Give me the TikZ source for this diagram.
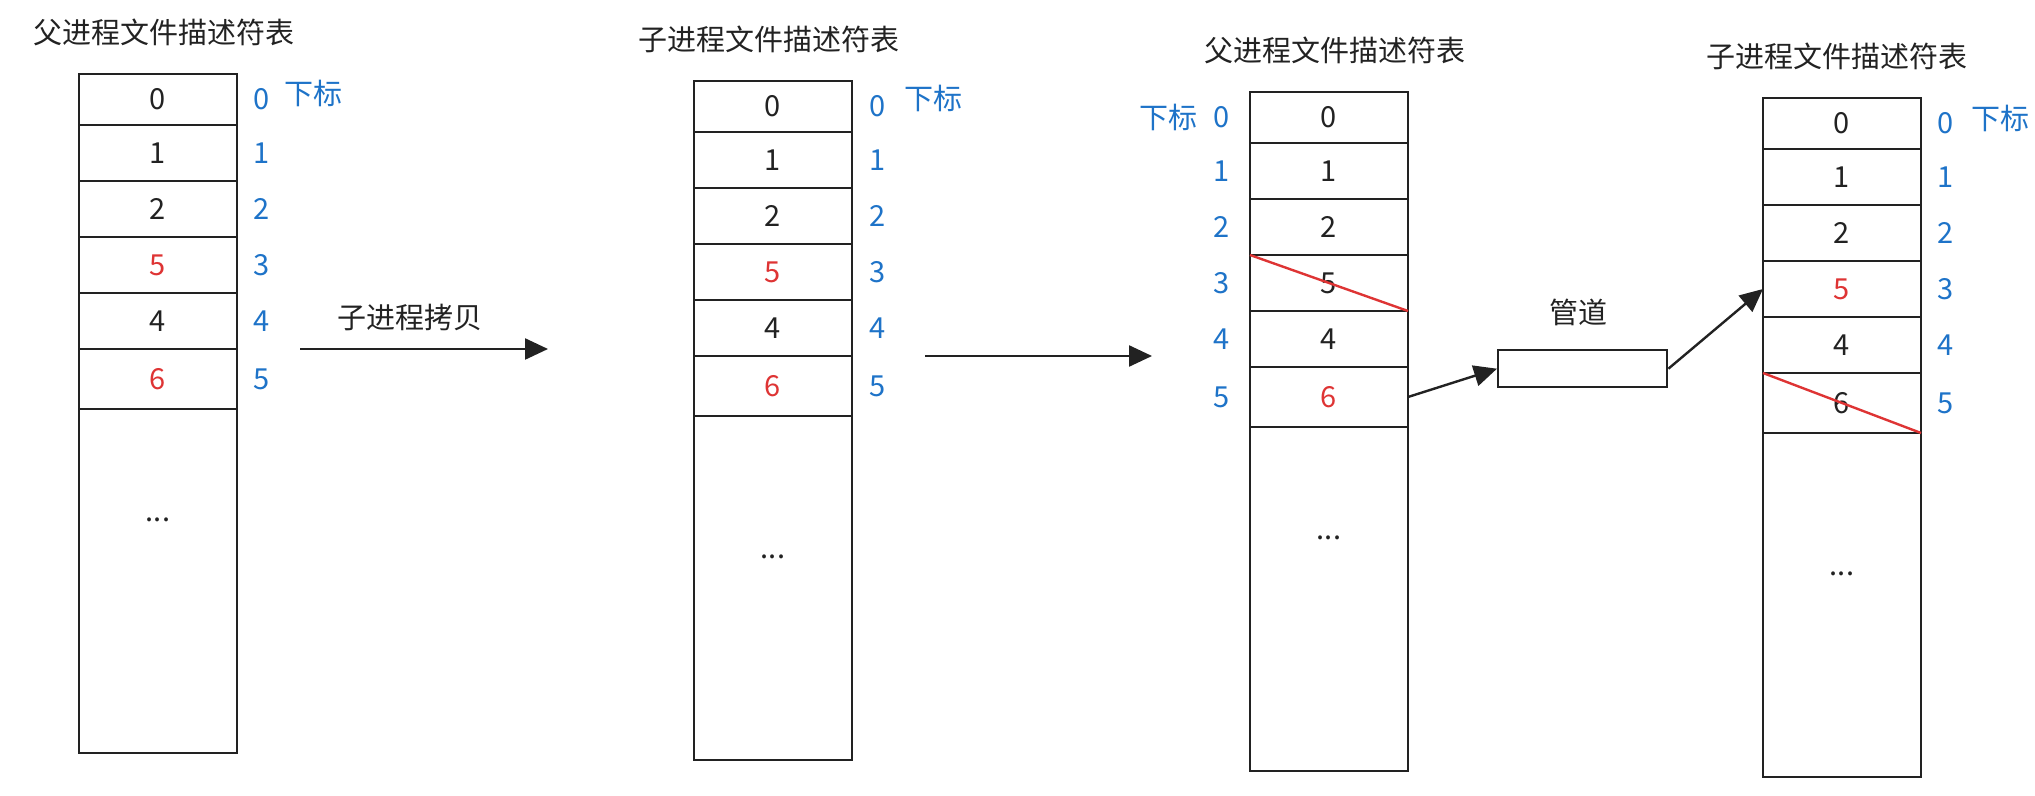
\documentclass[tikz,border=0pt]{standalone}
\usepackage{fontspec}
\newfontfamily\cjk{Noto Sans CJK SC}
\usetikzlibrary{positioning,arrows.meta}
\definecolor{idxblue}{RGB}{30,115,200}
\definecolor{fdred}{RGB}{222,52,52}
\definecolor{linegray}{RGB}{34,34,34}

\begin{document}
\begin{tikzpicture}[x=0.5pt, y=-0.5pt, every node/.style={font=\cjk\fontsize{14.5pt}{17pt}\selectfont, text=linegray}]
    \tikzset{
        cell/.style = {rectangle, line width=1.2pt, draw=linegray, minimum width=79pt, minimum height=28pt, outer sep=0pt, inner sep=0pt, text centered},
        topcell/.style = {cell, minimum height=25.5pt, anchor=north west},
        lastcell/.style = {cell, minimum height=30pt},
        restcell/.style = {cell, minimum height=172pt},
        idx/.style = {inner sep=0pt, text=idxblue},
        title/.style = {inner sep=0pt},
        arrow/.style = {line width=1.2pt, draw=linegray, -{Triangle[length=11.5pt, width=10.5pt]}},
        strike/.style = {line width=1.2pt, draw=fdred},
    }
    \useasboundingbox (0,0) rectangle (2035,796);

    \node (par1_c0) [topcell] at (79,74) {0};
    \node (par1_c1) [cell, below=0pt of par1_c0] {1};
    \node (par1_c2) [cell, below=0pt of par1_c1] {2};
    \node (par1_c3) [cell, below=0pt of par1_c2, text=fdred] {5};
    \node (par1_c4) [cell, below=0pt of par1_c3] {4};
    \node (par1_c5) [lastcell, below=0pt of par1_c4, text=fdred] {6};
    \node (par1_rest) [restcell, below=0pt of par1_c5] {};
    \node (par1_dots) [below=55.5pt of par1_c5.south, anchor=center] {...};
    \node (par1_i0) [idx, right=8pt of par1_c0] {0};
    \node (par1_i1) [idx, right=8pt of par1_c1] {1};
    \node (par1_i2) [idx, right=8pt of par1_c2] {2};
    \node (par1_i3) [idx, right=8pt of par1_c3] {3};
    \node (par1_i4) [idx, right=8pt of par1_c4] {4};
    \node (par1_i5) [idx, right=8pt of par1_c5] {5};
    \node (par1_sub) [idx, right=7pt of par1_i0, yshift=3pt] {下标};
    \node (par1_title) [title, above=14pt of par1_c0, xshift=3pt] {父进程文件描述符表};

    \node (chi1_c0) [topcell] at (694,81) {0};
    \node (chi1_c1) [cell, below=0pt of chi1_c0] {1};
    \node (chi1_c2) [cell, below=0pt of chi1_c1] {2};
    \node (chi1_c3) [cell, below=0pt of chi1_c2, text=fdred] {5};
    \node (chi1_c4) [cell, below=0pt of chi1_c3] {4};
    \node (chi1_c5) [lastcell, below=0pt of chi1_c4, text=fdred] {6};
    \node (chi1_rest) [restcell, below=0pt of chi1_c5] {};
    \node (chi1_dots) [below=70.5pt of chi1_c5.south, anchor=center] {...};
    \node (chi1_i0) [idx, right=8.5pt of chi1_c0] {0};
    \node (chi1_i1) [idx, right=8.5pt of chi1_c1] {1};
    \node (chi1_i2) [idx, right=8.5pt of chi1_c2] {2};
    \node (chi1_i3) [idx, right=8.5pt of chi1_c3] {3};
    \node (chi1_i4) [idx, right=8.5pt of chi1_c4] {4};
    \node (chi1_i5) [idx, right=8.5pt of chi1_c5] {5};
    \node (chi1_sub) [idx, right=9pt of chi1_i0, yshift=4pt] {下标};
    \node (chi1_title) [title, above=14pt of chi1_c0, xshift=-2pt] {子进程文件描述符表};

    \node (par2_c0) [topcell] at (1250,92) {0};
    \node (par2_c1) [cell, below=0pt of par2_c0] {1};
    \node (par2_c2) [cell, below=0pt of par2_c1] {2};
    \node (par2_c3) [cell, below=0pt of par2_c2] {5};
    \node (par2_c4) [cell, below=0pt of par2_c3] {4};
    \node (par2_c5) [lastcell, below=0pt of par2_c4, text=fdred] {6};
    \node (par2_rest) [restcell, below=0pt of par2_c5] {};
    \node (par2_dots) [below=55.5pt of par2_c5.south, anchor=center] {...};
    \node (par2_i0) [idx, left=10pt of par2_c0] {0};
    \node (par2_i1) [idx, left=10pt of par2_c1] {1};
    \node (par2_i2) [idx, left=10pt of par2_c2] {2};
    \node (par2_i3) [idx, left=10pt of par2_c3] {3};
    \node (par2_i4) [idx, left=10pt of par2_c4] {4};
    \node (par2_i5) [idx, left=10pt of par2_c5] {5};
    \node (par2_sub) [idx, left=7.5pt of par2_i0] {下标};
    \node (par2_title) [title, above=14pt of par2_c0, xshift=3pt] {父进程文件描述符表};

    \node (chi2_c0) [topcell] at (1763,98) {0};
    \node (chi2_c1) [cell, below=0pt of chi2_c0] {1};
    \node (chi2_c2) [cell, below=0pt of chi2_c1] {2};
    \node (chi2_c3) [cell, below=0pt of chi2_c2, text=fdred] {5};
    \node (chi2_c4) [cell, below=0pt of chi2_c3] {4};
    \node (chi2_c5) [lastcell, below=0pt of chi2_c4] {6};
    \node (chi2_rest) [restcell, below=0pt of chi2_c5] {};
    \node (chi2_dots) [below=70.5pt of chi2_c5.south, anchor=center] {...};
    \node (chi2_i0) [idx, right=8pt of chi2_c0] {0};
    \node (chi2_i1) [idx, right=8pt of chi2_c1] {1};
    \node (chi2_i2) [idx, right=8pt of chi2_c2] {2};
    \node (chi2_i3) [idx, right=8pt of chi2_c3] {3};
    \node (chi2_i4) [idx, right=8pt of chi2_c4] {4};
    \node (chi2_i5) [idx, right=8pt of chi2_c5] {5};
    \node (chi2_sub) [idx, right=8.5pt of chi2_i0, yshift=2.5pt] {下标};
    \node (chi2_title) [title, above=14pt of chi2_c0, xshift=-2.5pt] {子进程文件描述符表};

    \coordinate [right=31.5pt of par1_c4.south east] (copy_from);
    \coordinate [right=124pt of copy_from] (copy_to);
    \draw [arrow] (copy_from) -- node (copy_label) [midway, above=5pt, xshift=-7pt] {子进程拷贝} (copy_to);

    \coordinate [right=36.5pt of chi1_c4.south east] (dup_from);
    \coordinate [right=113.5pt of dup_from] (dup_to);
    \draw [arrow] (dup_from) -- (dup_to);

    \node (pipe) [draw=linegray, line width=1.2pt, minimum width=84.5pt, minimum height=18.5pt, anchor=north west] at (1497,349) {};
    \node (pipe_label) [title, above=11.5pt of pipe, xshift=-2pt] {管道};
    \draw [arrow] (par2_c5.east) -- (pipe.west);
    \draw [arrow] (pipe.east) -- (chi2_c3.west);

    \draw [strike] (par2_c3.north west) -- (par2_c3.south east);
    \draw [strike] (chi2_c5.north west) -- (chi2_c5.south east);
\end{tikzpicture}
\end{document}
